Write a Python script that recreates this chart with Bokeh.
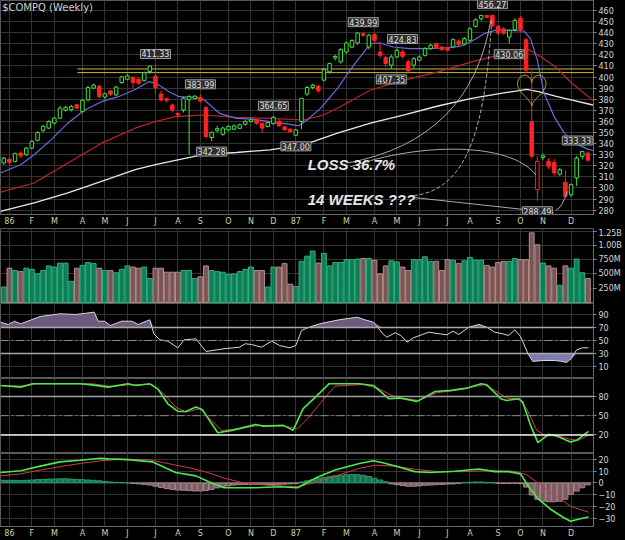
import numpy as np
from bokeh.plotting import figure
from bokeh.layouts import column
from bokeh.models import Range1d, FixedTicker, Label, Span, ColumnDataSource
from bokeh.embed import file_html
from bokeh.resources import INLINE

# ---------------- data (weekly, Jan 1986 - Dec 1987) ----------------
open_ = [322.5, 326, 324, 331.5, 330, 336, 343, 352, 354, 358.5,
         363, 370.3, 370.5, 375, 369, 379.5, 390, 391.8, 382, 387.5,
         384, 395, 398, 399.6, 398, 397, 405, 400.8, 384.7, 380.5,
         374.8, 367.3, 370.3, 379.6, 380.5, 381.4, 372.7, 345.5, 352, 348.5,
         352.4, 353, 353.8, 357.5, 360, 361.3, 358, 355.4, 358, 360,
         355, 353, 347.5, 360, 384.7, 390.6, 391.8, 397.2, 404.7, 417.2,
         413.7, 422.6, 427, 430.7, 439.1, 427.1, 438.2, 422.6, 417.6, 410.7,
         418.1, 422.6, 413.7, 410.7, 415.2, 419.6, 425.6, 430.1, 427.1, 426.5,
         427.1, 432.5, 429.8, 433.1, 445.7, 452.5, 455.5, 455.5, 445.7, 443.5,
         436.1, 442.7, 453, 433.7, 359.8, 298.6, 327.5, 324, 323, 312.5,
         305.2, 294, 309, 328.5, 331.4]
high = [328, 327.5, 332, 333, 337, 343, 351, 357, 361, 364,
        374, 374, 375, 376, 380, 392, 394, 393, 386, 388.5,
        392, 401, 402.5, 401, 399, 405, 410, 411.33, 388, 381.5,
        376, 368, 382, 384, 383.5, 383.99, 374, 351, 356, 355,
        356.5, 357.5, 358, 361, 362.5, 362.5, 359, 360, 364.65, 362,
        356, 354, 353, 381, 392, 394, 393, 408, 413, 420,
        426, 432, 434, 440, 439.99, 439, 440, 431.5, 419, 420,
        426, 424.83, 416, 418, 419.5, 427, 430, 431, 428, 427,
        435, 434, 436, 445, 453, 456, 456, 456.27, 447, 445,
        443, 453, 455, 435, 406, 328.5, 331, 327, 326, 318,
        316, 304, 329, 333.33, 333]
low = [321, 321, 323, 327, 329, 335, 342, 350, 353, 357,
       362, 369, 369, 371, 368, 378, 389, 381, 380, 383,
       383, 394, 397, 390, 393, 396, 403, 385, 378, 377,
       368, 364, 368, 330, 380, 377, 345, 342.28, 350, 347,
       351, 352, 353, 356, 359, 357, 349.5, 354.5, 357, 355,
       351.5, 349.5, 347.00, 353, 383, 389, 386, 396, 403, 415,
       412, 421, 426, 429, 436, 425, 430, 417, 409, 407.35,
       417, 417, 404, 408, 414, 418.5, 424.5, 425, 423.5, 423,
       426, 428, 428.5, 432, 444.5, 451, 453, 445, 438, 438,
       430.06, 441, 440, 404, 327, 288.49, 325, 317, 311, 311,
       291, 292, 302, 326, 324]
close = [327, 323, 331, 329, 336, 342, 350, 355.5, 360, 363,
         372, 372.7, 373.3, 372, 379, 390.5, 392.7, 382.3, 385, 384.5,
         391, 400.2, 401, 395, 394.5, 403.8, 409.8, 390.6, 379.3, 379.0,
         370.3, 365.8, 380.8, 382.3, 382.8, 378.4, 346.4, 350.0, 353.5, 354.0,
         355.4, 356, 357, 360, 361.5, 358.4, 354, 359, 363.7, 356,
         352.5, 350.8, 352.4, 380.8, 390.6, 392.7, 387.6, 406.8, 412.2, 418.5,
         424.7, 430.7, 433, 439.7, 437.6, 437.7, 433.1, 419.6, 412.2, 418.1,
         424.1, 418.7, 405.6, 416.6, 418.1, 425.6, 428.6, 426.5, 424.7, 424.1,
         433.7, 429.2, 434.6, 443.6, 451.6, 455.5, 454.0, 446.5, 439.7, 439.4,
         442.1, 451, 442.7, 406.2, 328.5, 324, 329, 319.5, 313.5, 316.5,
         292.6, 303, 327, 333, 325]
volume_m = [270, 600, 560, 540, 600, 580, 500, 560, 640, 620,
            690, 690, 370, 600, 650, 700, 680, 600, 560, 560,
            520, 580, 640, 620, 600, 620, 420, 600, 600, 530,
            530, 530, 560, 560, 420, 450, 640, 560, 540, 530,
            490, 500, 540, 580, 620, 560, 560, 270, 620, 620,
            680, 320, 280, 720, 810, 900, 690, 860, 640, 700,
            700, 750, 750, 760, 770, 770, 740, 500, 640, 730,
            710, 620, 560, 750, 750, 800, 720, 720, 560, 750,
            740, 680, 730, 790, 740, 740, 650, 620, 700, 720,
            720, 770, 750, 750, 1220, 1010, 690, 640, 600, 300,
            640, 600, 760, 520, 420]

# moving averages (week, value)
ma_blue_w = [-0.6, 3, 5.4, 8.4, 11.4, 14.4, 17.4, 20.4, 23.4, 25.8, 27, 29.4, 31.2, 34.2, 35.7,
             38.4, 41.4, 44.4, 47.4, 50.4, 52.5, 54, 56.4, 59.4, 62.3, 65.3, 67, 69.3, 72.3,
             75.3, 78.3, 81.3, 83.1, 85.5, 87.9, 90.2, 92.6, 93.8, 95, 96.2, 98, 99.8, 101.6,
             104, 104.9]
ma_blue_v = [313.5, 321, 330, 343.4, 358.4, 370.3, 377.8, 382.3, 388.8, 395.7, 394.8, 386.8, 382.3,
             381.7, 379.3, 367.3, 362.8, 362, 359.8, 357.8, 356, 361.3, 371.8, 389.7, 410.7, 430.1,
             430.7, 427.1, 425.6, 425.6, 426.2, 427.7, 431.6, 439.1, 442.7, 442.1, 441.5, 434.6,
             415.2, 385.3, 364.3, 349.4, 340.4, 335, 333.8]
ma_red_w = [-0.6, 5.4, 11.4, 17.4, 23.4, 27, 30.6, 35.4, 41.4, 47.4, 53.4, 56.9, 59.4, 65.3, 71.3,
            77.3, 83.3, 89.3, 93.4, 95.2, 98.2, 101.2, 104.9]
ma_red_v = [296.2, 304.5, 322.5, 340.4, 353.9, 359.9, 364.3, 365.8, 363.7, 362.8, 361.3, 365.8,
            371.8, 388.3, 397.2, 404.7, 413.7, 421.1, 424.7, 419.6, 409.2, 394.2, 379]
ma_white_w = [-0.6, 5.4, 11.4, 17.4, 23.4, 27, 31.2, 35.4, 41.4, 47.4, 53.4, 59.4, 65.3, 71.3, 77.3,
              83.3, 89.3, 93.1, 95.2, 98.2, 101.2, 104.9]
ma_white_v = [279, 286.6, 295.6, 306, 316.5, 321, 325.5, 330, 332, 334.4, 338.8, 349.4, 358.4,
              365.8, 373.9, 380.8, 385.9, 388.8, 386.8, 382.9, 379.3, 374.8]

# RSI
rsi_w = [-0.6, 0.8, 1.9, 3, 6.5, 10, 12.9, 16.1, 16.8, 17.9, 19, 21, 22.8, 23.9, 26, 26.7, 27.8,
         29.2, 31, 32.1, 34.2, 36, 39.2, 42, 43, 44.1, 45.9, 47.7, 49.1, 50.9, 52, 53, 54.1,
         56.2, 59.7, 62.9, 64.3, 65.8, 67.5, 68.2, 69.7, 70.7, 71.8, 72.9, 75.7, 77.5, 78.9,
         80, 81, 82.8, 84.6, 86, 87.4, 88.8, 89.9, 91, 92, 93.4, 94.2, 95.9, 98.1, 99.1, 100.2,
         101, 102, 103, 104.1]
rsi_v = [78.2, 74.6, 79.7, 75.6, 86.9, 91, 90, 93.6, 79.7, 79.7, 73, 79.7, 79.7, 74.6, 81.8, 60.3,
         51, 49, 38.7, 51, 52.6, 33.1, 37.2, 39.7, 44.9, 43.8, 39.7, 49, 42.3, 38.7, 42.3, 65.4,
         69.5, 75.6, 81.8, 85.9, 81.8, 78.2, 60.3, 55.1, 61.8, 57.7, 47.4, 54.1, 62.8, 60.3,
         58.7, 64.4, 59.2, 70.5, 74.6, 70.5, 62.8, 60.3, 57.7, 66.4, 56.1, 28.5, 17.7, 19.2,
         19.2, 18.2, 16.2, 21.8, 35.6, 38.7, 38.7]

# Slow stochastics
stk_w = [-0.6, 3, 5.1, 13.6, 15.7, 18.6, 22.1, 23.5, 26, 27.4, 29.2, 31, 32.4, 34.2, 35.3, 38.1,
         40.6, 44.8, 46.2, 49.8, 51.5, 53.3, 55.5, 57.9, 63.3, 65.8, 68.6, 70.4, 73.6, 76.8,
         79.6, 82.5, 85, 86, 88.5, 89.5, 91.7, 92.4, 93.8, 95.1, 97, 98.4, 100.9, 102, 104.1]
stk_v = [97.2, 94.6, 99.8, 99.8, 98.2, 94.6, 99.8, 97.2, 99.8, 92, 68.6, 56.6, 56.6, 63.4, 59.8,
         23.3, 27, 36.3, 33.7, 34.8, 27, 60.9, 79.1, 99.8, 99.8, 97.2, 76.4, 77.5, 72.3, 87.9,
         89.5, 93.1, 99.8, 98.2, 76.4, 73.8, 76.4, 71.2, 34.8, 7.8, 20.8, 18.2, 8.9, 11.5, 25.5]
std_w = [-0.6, 3.7, 5.8, 15.7, 19.3, 22.1, 26.4, 28.5, 30.6, 32.4, 34.9, 37, 38.8, 42, 45.5, 49.8,
         52.3, 54.1, 56.5, 59, 64, 66.8, 69.7, 73.9, 77.1, 80.3, 83.2, 85.6, 87.4, 89.5, 91.7,
         93.1, 94.9, 96.6, 98.4, 100.9, 102.3, 104.1]
std_v = [97.2, 96.2, 99.8, 99.8, 95.6, 98.2, 98.7, 84.1, 63.4, 55.5, 60.9, 42.7, 27, 29.6, 34.8,
         33.7, 29.6, 45.3, 71.2, 96.2, 98.7, 92, 79.1, 73.8, 85.8, 89.5, 94.6, 98.2, 89.5, 77.5,
         76.4, 60.9, 27, 18.2, 19.2, 13, 11.5, 19.2]

# MACD
macd_w = [-0.6, 3, 6.5, 10, 13.6, 17.2, 18.6, 22.1, 26.4, 27.8, 30.6, 34.2, 37, 39.2, 44.8, 49.1,
          52.3, 55.5, 59, 63.3, 65.8, 67.5, 69.7, 73.2, 76, 80.3, 84.6, 87.4, 89.9, 92, 93.4,
          95.2, 97.3, 99.5, 100.9, 102.3, 104.1]
macd_v = [8.8, 10.4, 14.3, 17.9, 19.3, 20.9, 20.4, 19.8, 17.9, 15.1, 8.8, 6.0, 0, -4.1, -4.1,
          -3.3, -4.1, 4.1, 11.0, 16.5, 18.8, 17.1, 14.3, 9.6, 8.8, 9.9, 11.8, 9.6, 9.6, 7.7,
          -2.8, -13.8, -22.1, -28.9, -32.5, -30.9, -28.9]
sig_w = [-0.6, 3, 6.5, 10, 13.6, 17.2, 20.7, 25.7, 29.2, 33.5, 36.3, 39.2, 42.7, 47.7, 52.3, 55.5,
         59.7, 63.3, 66.1, 69.7, 73.2, 77.5, 81.7, 86, 91, 93.1, 95.9, 98.8, 100.9, 104.1]
sig_v = [6.0, 7.7, 11.0, 13.8, 16.5, 18.8, 20.1, 19.8, 16.5, 12.4, 8.8, 4.1, 0, -2.2, -3.3, 0.5,
         6.9, 12.4, 15.1, 14.3, 11.6, 9.6, 9.6, 10.4, 9.9, 6.9, -2.8, -12.4, -19.8, -24.8]
macd_hist = [2.2, 2.2, 2.2, 2.0, 2.2, 2.5, 2.8, 3.0, 3.3, 3.3,
             3.5, 3.5, 3.3, 3.0, 2.8, 2.5, 2.2, 1.8, 1.3, 0.8,
             0.5, 0.3, 0.0, -0.5, -0.8, -1.2, -1.8, -2.8, -3.8, -4.8,
             -5.5, -6.0, -6.2, -6.5, -6.8, -6.9, -6.5, -5.5, -4.2, -3.2,
             -2.4, -1.8, -1.5, -1.3, -1.2, -1.2, -1.3, -1.4, -1.3, -1.2,
             -1.0, -0.8, -0.6, 0.8, 1.8, 2.8, 3.8, 4.5, 5.3, 6.0,
             6.5, 7.0, 7.2, 7.0, 6.5, 5.5, 4.0, 2.5, 1.0, -0.8,
             -1.5, -2.2, -2.8, -2.8, -2.5, -2.0, -1.8, -1.5, -1.3, -1.0,
             -0.8, -0.5, 0.3, 0.6, 0.8, 0.8, 0.5, 0.2, -0.2, -0.5,
             -0.5, -0.3, -0.6, -3.5, -10.2, -13.8, -15.5, -16.0, -16.0, -15.5,
             -13.8, -9.7, -6.9, -4.1, -1.6]

# axis ticks / labels
month_ticks = [1, 5, 9, 14, 18, 22, 27, 31, 35, 40, 44, 48, 52, 57, 61, 66, 70, 74, 79, 83, 88, 92, 96, 101]
month_labels = ["86", "F", "M", "A", "M", "J", "J", "A", "S", "O", "N", "D",
                "87", "F", "M", "A", "M", "J", "J", "A", "S", "O", "N", "D"]
price_ticks = list(range(280, 461, 10))
vol_ticks = [250, 500, 750, 1000, 1250]
vol_labels = ["250M", "500M", "750M", "1.00B", "1.25B"]

# annotated highs / lows: (week, price, side)
label_week = [27, 35, 37, 48, 52, 64, 69, 71, 87, 90, 95, 103]
label_price = [411.33, 383.99, 342.28, 364.65, 347.00, 439.99, 407.35, 424.83, 456.27, 430.06, 288.49, 333.33]
label_above = [True, True, False, True, False, True, False, True, True, False, False, True]

# resistance lines
res_levels = [407.3, 404.0]
res_start_week = 13.1

# ---------------- helpers ----------------
BG = "black"
GRID = "#343434"
AXC = "#8a8a8a"
FONT = "DejaVu Sans"

n = len(close)
week = np.arange(n)
o = np.array(open_); h = np.array(high); l = np.array(low); c = np.array(close)
prev = np.concatenate([[o[0]], c[:-1]])
up = c >= prev
GREEN = "#3fe33f"
RED = "#ff2222"
ccol = [GREEN if u else RED for u in up]
cfill = [("black" if cc > oo else col) for cc, oo, col in zip(c, o, ccol)]

xr = Range1d(-0.59, 105.0)


def make_fig(height, yr, xaxis=False, bottom=0):
    p = figure(width=625, height=height, x_range=xr, y_range=yr,
               output_backend="svg", toolbar_location=None,
               x_axis_location="below" if xaxis else None, y_axis_location="right",
               min_border_left=0, min_border_right=32, min_border_top=0,
               min_border_bottom=bottom)
    p.background_fill_color = BG
    p.border_fill_color = BG
    p.outline_line_color = "#5a5a5a"
    p.xgrid.ticker = FixedTicker(ticks=month_ticks)
    p.xgrid.grid_line_color = GRID
    p.ygrid.grid_line_color = GRID
    return p


def style_y(p, ticks, overrides=None):
    ax = p.yaxis[0]
    ax.ticker = FixedTicker(ticks=ticks)
    p.ygrid.ticker = FixedTicker(ticks=ticks)
    if overrides:
        ax.major_label_overrides = overrides
    ax.axis_line_color = AXC
    ax.axis_line_dash = "1 2"
    ax.major_tick_line_color = AXC
    ax.major_tick_out = 3
    ax.major_tick_in = 0
    ax.minor_tick_line_color = None
    ax.major_label_text_color = "#d8d8d8"
    ax.major_label_text_font = FONT
    ax.major_label_text_font_size = "8px"
    ax.major_label_standoff = 2


def style_x(p):
    ax = p.xaxis[0]
    ax.ticker = FixedTicker(ticks=month_ticks)
    ax.major_label_overrides = dict(zip(month_ticks, month_labels))
    ax.axis_line_color = AXC
    ax.axis_line_dash = "1 2"
    ax.major_tick_line_color = None
    ax.minor_tick_line_color = None
    ax.major_tick_out = 0
    ax.major_tick_in = 0
    ax.major_label_standoff = 2
    ax.major_label_text_color = "#d6cfa6"
    ax.major_label_text_font = FONT
    ax.major_label_text_font_size = "8px"


# ---------------- price panel ----------------
p1 = make_fig(228, Range1d(276.1, 469.0), xaxis=True, bottom=13)
style_y(p1, price_ticks)
style_x(p1)

for lv in res_levels:
    p1.line([res_start_week, 105.0], [lv, lv], line_color="#c9b84a", line_width=1)

p1.line(ma_white_w, ma_white_v, line_color="#e8e8e8", line_width=1.3)
p1.line(ma_red_w, ma_red_v, line_color="#c42323", line_width=1.2)
p1.line(ma_blue_w, ma_blue_v, line_color="#6a6ae0", line_width=1.2)

src = ColumnDataSource(dict(x=week, lo=l, hi=h, top=np.maximum(o, c), bot=np.minimum(o, c),
                            col=ccol, fill=cfill))
p1.segment(x0="x", y0="lo", x1="x", y1="hi", line_color="col", line_width=1, source=src)
p1.vbar(x="x", top="top", bottom="bot", width=0.62, fill_color="fill", line_color="col",
        line_width=1, source=src)

# hand-drawn annotation curves (week, price)
p1.quadratic(x0=[61.2], y0=[322.5], x1=[86.7], y1=[451.0], cx=[83.1], cy=[343.4],
             line_color="#a8a8a8", line_width=1)
p1.bezier(x0=[73.0], y0=[293.2], x1=[86.9], y1=[453.7], cx0=[83.1], cy0=[298.6],
          cx1=[85.8], cy1=[361.3], line_color="#a8a8a8", line_width=1, line_dash="4 2")
p1.bezier(x0=[61.7], y0=[319.0], x1=[94.7], y1=[312.0], cx0=[74.2], cy0=[341.4],
          cx1=[90.2], cy1=[341.4], line_color="#a8a8a8", line_width=1)
p1.line([73.0, 97.9], [291.4, 277.7], line_color="#a8a8a8", line_width=1)
p1.quadratic(x0=[98.3], y0=[280.0], x1=[100.3], y1=[297.0], cx=[99.5], cy=[282.4],
             line_color="#a8a8a8", line_width=1)

# heart
heart_center, heart_half_width, heart_top, heart_bottom = 94.0, 2.53, 401.7, 373.9
t = np.linspace(0, 2 * np.pi, 160)
hx = 16 * np.sin(t) ** 3
hy = 13 * np.cos(t) - 5 * np.cos(2 * t) - 2 * np.cos(3 * t) - np.cos(4 * t)
p1.line(heart_center + hx / 16 * heart_half_width,
        heart_bottom + (hy + 17) / 29 * (heart_top - heart_bottom),
        line_color="#c9b040", line_width=1)

for wk, pr, ab in zip(label_week, label_price, label_above):
    p1.add_layout(Label(x=wk, y=pr, text=f"{pr:.2f}", text_align="center",
                        text_baseline="bottom" if ab else "top",
                        y_offset=6 if ab else -6,
                        x_offset=-5 if wk == 103 else 0,
                        text_font=FONT, text_font_size="8px", text_color="#e0e0e0",
                        background_fill_color="#2c2c2c", border_line_color="#a0a0a0",
                        padding=1))

p1.add_layout(Label(x=-0.3, y=467.3, text="$COMPQ (Weekly)", text_baseline="top",
                    text_font=FONT, text_font_size="10px", text_color="#d0d0d0"))
p1.add_layout(Label(x=54.1, y=313.8, text="LOSS 36.7%", text_font="Liberation Sans",
                    text_font_style="bold italic", text_font_size="15px", text_color="#e6e6e6"))
p1.add_layout(Label(x=54.1, y=282.4, text="14 WEEKS ???", text_font="Liberation Sans",
                    text_font_style="bold italic", text_font_size="15px", text_color="#e6e6e6"))

# ---------------- volume panel ----------------
p2 = make_fig(75, Range1d(-19, 1296))
style_y(p2, vol_ticks, dict(zip(vol_ticks, vol_labels)))
p2.vbar(x=week, top=volume_m, bottom=0, width=0.86,
        fill_color=["#0f7d57" if u else "#7b5555" for u in up],
        line_color=["#2fb07e" if u else "#b58d8d" for u in up], line_width=1)

# ---------------- RSI panel ----------------
p3 = make_fig(75, Range1d(-8.5, 106.9))
style_y(p3, [10, 30, 50, 70, 90])
rv = np.array(rsi_v)
p3.varea(x=rsi_w, y1=np.full(len(rv), 70.0), y2=np.maximum(rv, 70), fill_color="#6e5a80")
p3.varea(x=rsi_w, y1=np.minimum(rv, 30), y2=np.full(len(rv), 30.0), fill_color="#7c7cae")
for lv in (70, 30):
    p3.add_layout(Span(location=lv, dimension="width", line_color="#a8a8a8", line_width=1.5))
p3.add_layout(Span(location=50, dimension="width", line_color="#8c8c8c", line_width=1,
                   line_dash="8 3 2 3"))
p3.line(rsi_w, rsi_v, line_color="#d8d8d8", line_width=1)

# ---------------- stochastics panel ----------------
p4 = make_fig(75, Range1d(-9.1, 108.1))
style_y(p4, [20, 50, 80])
p4.add_layout(Span(location=80, dimension="width", line_color="#a0a0a0", line_width=1.5))
p4.add_layout(Span(location=50, dimension="width", line_color="#8c8c8c", line_width=1,
                   line_dash="8 3 2 3"))
p4.add_layout(Span(location=20, dimension="width", line_color="#f0f0f0", line_width=1.5))
p4.line(std_w, std_v, line_color="#c84040", line_width=1)
p4.line(stk_w, stk_v, line_color="#4ee84e", line_width=1.6)

# ---------------- MACD panel ----------------
p5 = make_fig(87, Range1d(-37.0, 25.0), xaxis=True, bottom=12)
style_y(p5, [-30, -20, -10, 0, 10, 20])
style_x(p5)
mh = np.array(macd_hist)
p5.vbar(x=week, top=mh, bottom=0, width=0.9,
        fill_color=["#15704f" if v >= 0 else "#7a5c62" for v in mh],
        line_color=["#2c9a70" if v >= 0 else "#a8868c" for v in mh], line_width=1)
p5.line(sig_w, sig_v, line_color="#c84040", line_width=1)
p5.line(macd_w, macd_v, line_color="#4ee84e", line_width=1.6)

layout = column(p1, p2, p3, p4, p5, spacing=0)
layout.background = "black"

open("out.html", "w").write(file_html(layout, INLINE))
